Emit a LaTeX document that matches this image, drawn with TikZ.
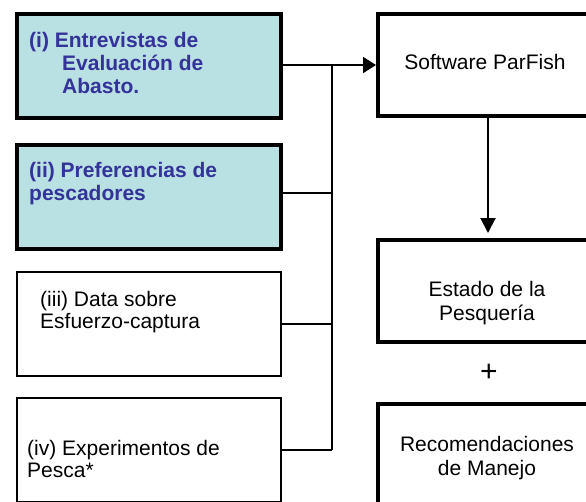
\documentclass[tikz,border=0pt]{standalone}
\usepackage{fontspec}
\setmainfont{Liberation Sans}
\usetikzlibrary{arrows.meta}
\usetikzlibrary{positioning}
\definecolor{paleaqua}{RGB}{185,224,226}
\definecolor{inkblue}{RGB}{51,51,153}

\begin{document}
\begin{tikzpicture}[x=1pt,y=-1pt,
  inbox/.style={draw, line width=4pt, fill=paleaqua, minimum width=264pt, minimum height=104pt},
  databox/.style={draw, line width=2pt, minimum width=264pt, minimum height=104pt},
  outbox/.style={draw, line width=4pt, minimum width=220pt, minimum height=102pt},
  bluetext/.style={font=\fontsize{21}{23}\selectfont\bfseries, text=inkblue, inner sep=0pt, align=left, anchor=base west},
  blacktext/.style={font=\fontsize{21}{22}\selectfont, inner sep=0pt, align=left, anchor=base west},
  midtext/.style={font=\fontsize{21}{23.5}\selectfont, inner sep=0pt, align=center, anchor=base},
  link/.style={line width=2pt},
  feed/.style={line width=2pt, -{Triangle[length=13pt,width=16pt]}}]
\useasboundingbox (0,0) rectangle (586,501);
\clip (0,0) rectangle (586,501);
\node[inbox] (entrevistas) at (149,66) {};
\node[inbox] (preferencias) at (149,197) {};
\node[databox] (esfuerzo) at (149,324) {};
\node[databox] (experimentos) at (149,450) {};
\node[outbox] (parfish) at (488,65) {};
\node[outbox] (estado) at (488,291) {};
\node[outbox] (manejo) at (488,455) {};
\node[bluetext] (entrevistastxt) at (29,93) {(i) Entrevistas de\\\hspace*{33pt}Evaluación de\\\hspace*{33pt}Abasto.};
\node[bluetext] (preferenciastxt) at (29,200) {(ii) Preferencias de\\pescadores};
\node[blacktext] (esfuerzotxt) at (40,328) {(iii) Data sobre\\Esfuerzo-captura};
\node[blacktext] (experimentostxt) at (27,477) {(iv) Experimentos de\\Pesca*};
\node[midtext] (parfishtxt) at (485,69) {Software ParFish};
\node[midtext] (estadotxt) at (487,320) {Estado de la\\Pesquería};
\node[midtext] (manejotxt) at (487,475) {Recomendaciones\\de Manejo};
\node[font=\fontsize{30}{30}\selectfont, inner sep=0pt] (plus) at (489,373) {+};
\coordinate (trunk) at (332,65);
\coordinate (prefout) at ([yshift=4pt]preferencias.east);
\draw[feed] (entrevistas.east |- parfish.west) -- (parfish.west);
\draw[link] (trunk) -- (trunk |- experimentos.east);
\draw[link] (prefout) -- (prefout -| trunk);
\draw[link] (esfuerzo.east) -- (esfuerzo.east -| trunk);
\draw[link] (experimentos.east) -- (experimentos.east -| trunk);
\draw[feed, -{Triangle[length=15pt,width=15pt]}, shorten >=5pt] (parfish) -- (estado);
\end{tikzpicture}
\end{document}
